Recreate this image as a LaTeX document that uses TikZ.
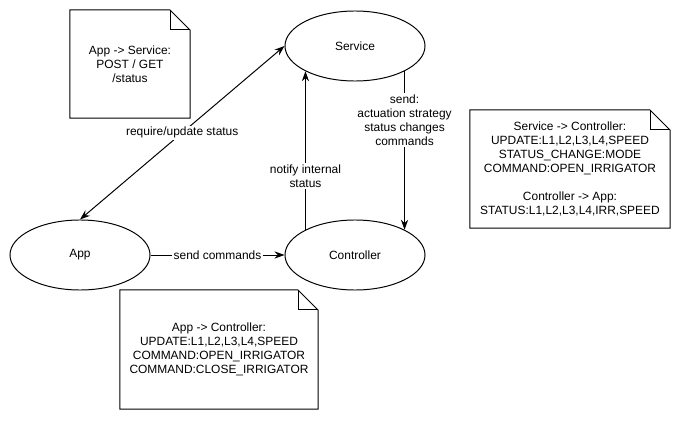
\documentclass[tikz,border=0pt]{standalone}
\usepackage{fontspec}
\setmainfont{Liberation Sans}
\usetikzlibrary{shapes.geometric,arrows.meta}

\begin{document}
\begin{tikzpicture}[x=0.025cm, y=-0.025cm,
  every node/.style={font=\fontsize{8.5}{10}\selectfont},
  >={Stealth[length=0.25cm,width=0.18cm]},
  state/.style={ellipse, draw, line width=0.7pt, minimum width=3.5cm, minimum height=1.75cm, inner sep=0pt},
  notebox/.style={rectangle, align=center, inner sep=0pt, outer sep=0pt},
  link/.style={line width=0.7pt, ->},
  tag/.style={fill=white, inner sep=1pt, align=center}]

% Cornice
\useasboundingbox (0,0) rectangle (680,421);

% Risvolto delle note
\def\fold{0.5cm}

% Stati
\node[state] (service) at (355,46) {Service};
\node[state] (app) at (80,255) {App};
\node[state] (controller) at (355,255) {Controller};

% Note
\node[notebox, minimum width=3cm, minimum height=2.7cm] (noteSrv) at (130,64)
  {App -> Service:\\POST / GET\\/status};
\node[notebox, minimum width=5cm, minimum height=2.95cm] (noteCtl) at (570,169)
  {Service -> Controller:\\UPDATE:L1,L2,L3,L4,SPEED\\STATUS\_CHANGE:MODE\\COMMAND:OPEN\_IRRIGATOR\\[10pt]Controller -> App:\\STATUS:L1,L2,L3,L4,IRR,SPEED};
\node[notebox, minimum width=4.95cm, minimum height=2.975cm] (noteApp) at (219,349.5)
  {App -> Controller:\\UPDATE:L1,L2,L3,L4,SPEED\\COMMAND:OPEN\_IRRIGATOR\\COMMAND:CLOSE\_IRRIGATOR};

\foreach \n in {noteSrv,noteCtl,noteApp}{
  \draw[line width=0.7pt] (\n.north west) -- ([xshift=-\fold]\n.north east) -- ([yshift=-\fold]\n.north east)
    -- (\n.south east) -- (\n.south west) -- cycle;
  \draw[line width=0.7pt] ([xshift=-\fold]\n.north east) |- ([yshift=-\fold]\n.north east);
}

% Collegamenti
\draw[link, <->] (app.north) -- node[tag] {require/update status} (service.west);
\draw[link] (app.east) -- node[tag] {send commands} (controller.west);
\draw[link] (controller.153) -- node[tag, pos=0.34] {notify internal\\status} (service.207);
\draw[link] (service.333) -- node[tag, pos=0.31] {send:\\actuation strategy\\status changes\\commands} (controller.27);

\end{tikzpicture}
\end{document}
